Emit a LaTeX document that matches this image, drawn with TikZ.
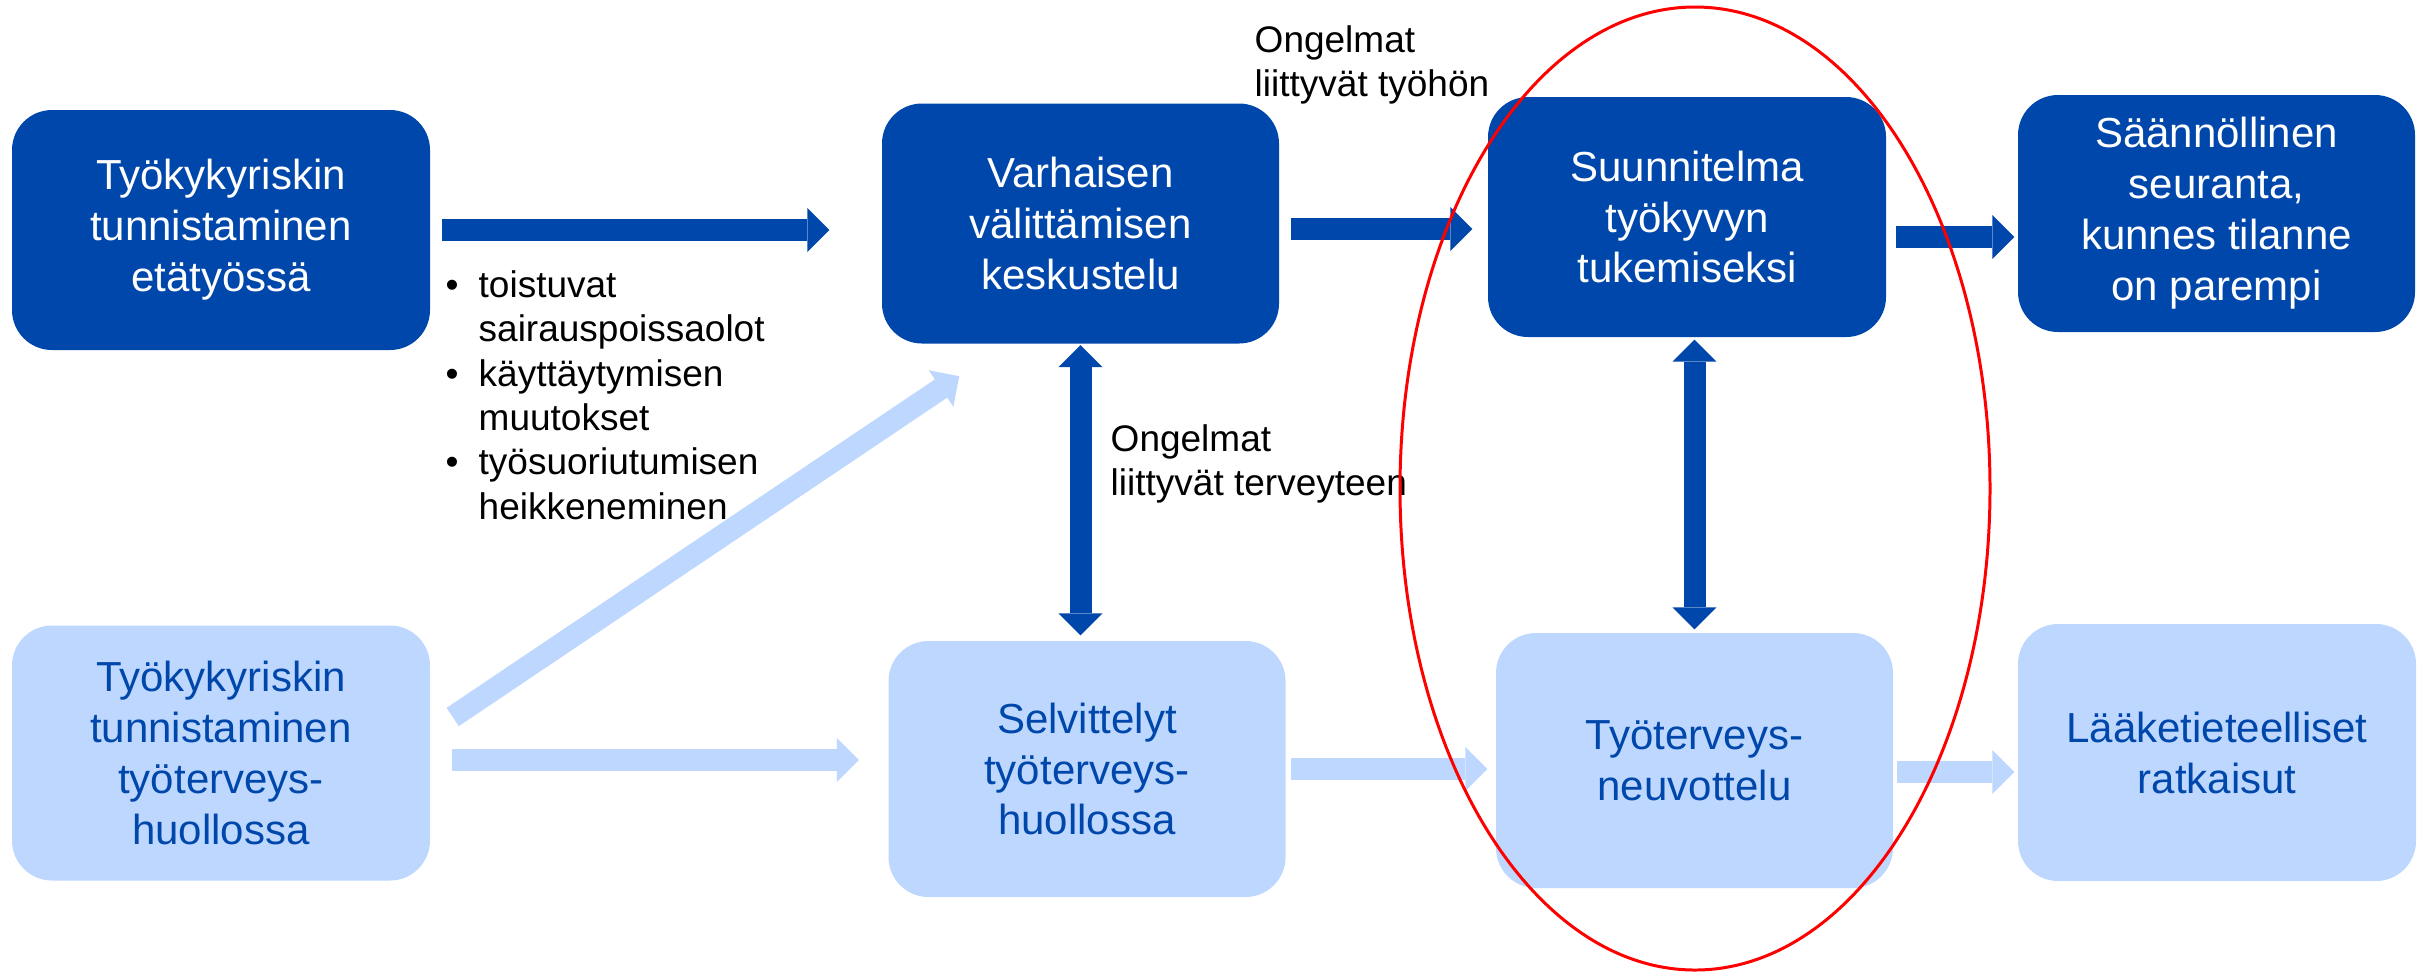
\documentclass[tikz,border=0pt]{standalone}
\usepackage{fontspec}
\setmainfont{Liberation Sans}
\usepackage{tikz}
\usetikzlibrary{arrows.meta}
\definecolor{tthblue}{RGB}{0,71,171}
\definecolor{tthlight}{RGB}{189,215,254}
\tikzset{blocktip/.tip={Triangle[width=0.44cm,length=0.22cm,line width=0pt]}}

\begin{document}
\begin{tikzpicture}[
  darkbox/.style={fill=tthblue, text=white, rounded corners=0.4cm, inner sep=0pt,
    minimum width=3.97cm, align=center, font=\fontsize{11.95}{14.5}\selectfont},
  lightbox/.style={darkbox, fill=tthlight, text=tthblue},
  darrow/.style={draw=tthblue, line width=0.22cm, -blocktip},
  larrow/.style={darrow, draw=tthlight},
  bothways/.style={draw=tthblue, line width=0.22cm, blocktip-blocktip},
  note/.style={anchor=base west, inner sep=0pt, font=\fontsize{10.53}{12.66}\selectfont}]
\useasboundingbox (0,0) rectangle (24.25,-9.72);
%%%%% Boxes %%%%%
\node[darkbox, minimum width=4.18cm, minimum height=2.40cm] (riskEta) at (2.21,-2.30) {Työkykyriskin\\tunnistaminen\\etätyössä};
\node[darkbox, minimum height=2.40cm] (varhainen) at (10.805,-2.235) {Varhaisen\\välittämisen\\keskustelu};
\node[darkbox, minimum width=3.98cm, minimum height=2.40cm] (suunnitelma) at (16.87,-2.17) {Suunnitelma\\työkyvyn\\tukemiseksi};
\node[darkbox, minimum height=2.37cm] (seuranta) at (22.165,-2.135) {Säännöllinen\\seuranta,\\kunnes tilanne\\on parempi};
\node[lightbox, minimum width=4.18cm, minimum height=2.55cm] (riskTth) at (2.21,-7.53) {Työkykyriskin\\tunnistaminen\\työterveys-\\huollossa};
\node[lightbox, minimum height=2.56cm] (selvittelyt) at (10.87,-7.69) {Selvittelyt\\työterveys-\\huollossa};
\node[lightbox, minimum height=2.55cm] (neuvottelu) at (16.945,-7.605) {Työterveys-\\neuvottelu};
\node[lightbox, minimum width=3.98cm, minimum height=2.57cm] (ratkaisut) at (22.17,-7.525) {Lääketieteelliset\\ratkaisut};
%%%%% Arrows %%%%%
\draw[larrow] ([xshift=0.22cm,yshift=0.36cm]riskTth.east) -- ([xshift=0.78cm,yshift=-0.32cm]varhainen.south west);
\draw[darrow, shorten <=0.11cm, shorten >=0.52cm] (riskEta.east) -- (riskEta.east -| varhainen.west);
\draw[darrow, shorten <=0.11cm, shorten >=0.15cm] ([yshift=-0.055cm]varhainen.east) -- ([yshift=-0.055cm]varhainen.east -| suunnitelma.west);
\draw[darrow, shorten <=0.09cm, shorten >=0.03cm] ([yshift=-0.2cm]suunnitelma.east) -- ([yshift=-0.2cm]suunnitelma.east -| seuranta.west);
\draw[larrow, shorten <=0.21cm, shorten >=0.29cm] ([yshift=-0.07cm]riskTth.east) -- ([yshift=-0.07cm]riskTth.east -| selvittelyt.west);
\draw[larrow, shorten <=0.05cm, shorten >=0.08cm] (selvittelyt.east) -- (selvittelyt.east -| neuvottelu.west);
\draw[larrow, shorten <=0.03cm, shorten >=0.03cm] ([yshift=-0.115cm]neuvottelu.east) -- ([yshift=-0.115cm]neuvottelu.east -| ratkaisut.west);
\draw[bothways, shorten <=0.01cm, shorten >=0.05cm] (varhainen.south) -- (varhainen.south |- selvittelyt.north);
\draw[bothways, shorten <=0.03cm, shorten >=0.02cm] (neuvottelu.north) -- (neuvottelu.north |- suunnitelma.south);
%%%%% Labels %%%%%
\node[note] (merkit) at (4.45,-2.97) {\begin{tabular}[t]{@{}l@{\hspace{5.7pt}}l@{}}
\textbullet & toistuvat\\ & sairauspoissaolot\\
\textbullet & käyttäytymisen\\ & muutokset\\
\textbullet & työsuoriutumisen\\ & heikkeneminen\end{tabular}};
\node[note] (tyohon) at (12.54,-0.52) {\begin{tabular}[t]{@{}l@{}}Ongelmat\\liittyvät työhön\end{tabular}};
\node[note] (terveyteen) at (11.10,-4.51) {\begin{tabular}[t]{@{}l@{}}Ongelmat\\liittyvät terveyteen\end{tabular}};
%%%%% Focus %%%%%
\draw[red, line width=0.85pt] (16.95,-4.885) ellipse [x radius=2.95cm, y radius=4.815cm];
\end{tikzpicture}
\end{document}
